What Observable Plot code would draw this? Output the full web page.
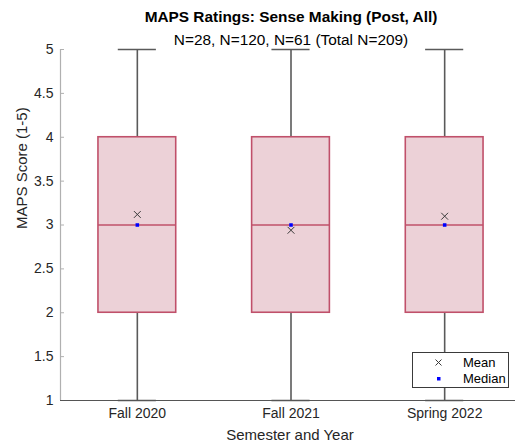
<!DOCTYPE html>
<html><head><meta charset="utf-8">
<script src="https://cdn.jsdelivr.net/npm/d3@7"></script>
<script src="https://cdn.jsdelivr.net/npm/@observablehq/plot@0.6"></script>
<style>
html,body{margin:0;padding:0;background:#fff;overflow:hidden}
#wrap{position:relative;width:515px;height:447px;font-family:"Liberation Sans",Arial,sans-serif;overflow:hidden}
#legend{position:absolute;left:412px;top:352px;width:95px;height:34px;border:1px solid #3a3a3a;background:#fff}
#legend svg{display:block}
</style></head><body><div id="wrap"></div>
<script>
// ---- data ----
const categories = ["Fall 2020", "Fall 2021", "Spring 2022"];
const sampleSizes = [28, 120, 61];
const whiskerLow = [1, 1, 1];
const q1 = [2, 2, 2];
const medians = [3, 3, 3];
const q3 = [4, 4, 4];
const whiskerHigh = [5, 5, 5];
const means = [3.12, 2.94, 3.10];
const yTicks = [1, 1.5, 2, 2.5, 3, 3.5, 4, 4.5, 5];

const titleText = "MAPS Ratings: Sense Making (Post, All)";
const subtitleText = sampleSizes.map(n => "N=" + n).join(", ") + " (Total N=" + d3.sum(sampleSizes) + ")";

const rows = categories.map((name, i) => ({
  pos: i + 1, name, low: whiskerLow[i], q1: q1[i], median: medians[i],
  q3: q3[i], high: whiskerHigh[i], mean: means[i]
}));

const boxHalf = 0.253, capHalf = 0.124;
const boxStroke = "#c0506a", boxFill = "#ecd1d7", whisk = "#5a5a5a", txt = "#262626";

const chart = Plot.plot({
  width: 515, height: 447,
  marginLeft: 60, marginRight: 0, marginTop: 49, marginBottom: 47,
  style: {fontFamily: "'Liberation Sans', Arial, sans-serif", fontSize: "14px", color: txt, background: "transparent", overflow: "visible"},
  x: {domain: [0.5, 3.5], range: [60, 521]},
  y: {domain: [1, 5], range: [400, 49]},
  marks: [
    // axis lines
    Plot.ruleX([0.5], {y1: 1, y2: 5, stroke: "#b0b0b0", strokeWidth: 1.2}),
    Plot.axisY({ticks: yTicks, tickFormat: d => String(d), tickSize: -4, tickPadding: 11, stroke: "#b0b0b0", label: null, fontSize: 14, fill: txt}),
    Plot.axisX({ticks: [1, 2, 3], tickFormat: d => categories[d - 1], tickSize: 0, tickPadding: 8, label: null, fontSize: 14, fill: txt}),
    // whiskers
    Plot.ruleX(rows, {x: "pos", y1: "q3", y2: "high", stroke: whisk, strokeWidth: 1.6}),
    Plot.ruleX(rows, {x: "pos", y1: "low", y2: "q1", stroke: whisk, strokeWidth: 1.6}),
    Plot.ruleY(rows, {y: "high", x1: d => d.pos - capHalf, x2: d => d.pos + capHalf, stroke: whisk, strokeWidth: 1.6}),
    Plot.ruleY(rows, {y: "low", x1: d => d.pos - capHalf, x2: d => d.pos + capHalf, stroke: whisk, strokeWidth: 1.6}),
    Plot.ruleY([1], {x1: 0.5, x2: 3.5, stroke: "#555", strokeWidth: 1.2}),
    // boxes
    Plot.rect(rows, {x1: d => d.pos - boxHalf, x2: d => d.pos + boxHalf, y1: "q1", y2: "q3", fill: boxFill, stroke: boxStroke, strokeWidth: 1.6}),
    Plot.ruleY(rows, {y: "median", x1: d => d.pos - boxHalf, x2: d => d.pos + boxHalf, stroke: boxStroke, strokeWidth: 1.6}),
    // markers
    Plot.dot(rows, {x: "pos", y: "mean", symbol: "times", r: 3.2, stroke: "#3a3a3a", strokeWidth: 1}),
    Plot.dot(rows, {x: "pos", y: "median", symbol: "square", r: 2, fill: "#0000ff", stroke: "none"}),
    // titles and labels
    Plot.text([titleText], {frameAnchor: "top", dx: 3, dy: -32, fontWeight: "bold", fontSize: 15.4, fill: "#000", lineAnchor: "middle"}),
    Plot.text([subtitleText], {frameAnchor: "top", dx: 3, dy: -9, fontSize: 15.4, fill: "#000", lineAnchor: "middle"}),
    Plot.text(["Semester and Year"], {frameAnchor: "bottom", dx: 2, dy: 35, fontSize: 15, fill: txt, lineAnchor: "middle"}),
    Plot.text(["MAPS Score (1-5)"], {frameAnchor: "left", dx: -38, dy: 4, rotate: -90, fontSize: 15, fill: txt, lineAnchor: "middle"})
  ]
});

const wrap = document.getElementById("wrap");
wrap.appendChild(chart);

// legend
const legend = document.createElement("div");
legend.id = "legend";
const ls = d3.create("svg").attr("width", 95).attr("height", 34);
const items = [{label: "Mean", sym: "times"}, {label: "Median", sym: "square"}];
items.forEach((it, i) => {
  const cy = 9.5 + i * 16;
  if (it.sym === "times") {
    ls.append("path").attr("d", `M22.5,${cy - 3}L28.5,${cy + 3}M28.5,${cy - 3}L22.5,${cy + 3}`).attr("stroke", "#3a3a3a").attr("stroke-width", 1).attr("fill", "none");
  } else {
    ls.append("rect").attr("x", 24).attr("y", cy - 1.5).attr("width", 3.5).attr("height", 3.5).attr("fill", "#0000ff");
  }
  ls.append("text").attr("x", 50).attr("y", cy).attr("dy", "0.35em").attr("font-size", 13)
    .attr("font-family", "'Liberation Sans', Arial, sans-serif").attr("fill", "#000").text(it.label);
});
legend.appendChild(ls.node());
wrap.appendChild(legend);
</script>
</body></html>
